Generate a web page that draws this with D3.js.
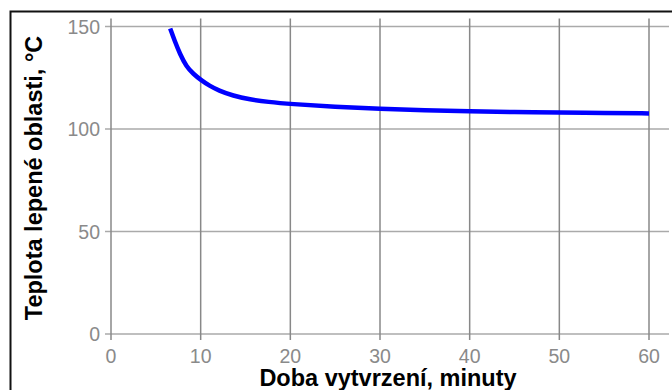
<!DOCTYPE html>
<html>
<head>
<meta charset="utf-8">
<script src="https://cdn.jsdelivr.net/npm/d3@7"></script>
<style>
  body { margin: 0; background: #fff; }
  svg { display: block; font-family: "Liberation Sans", Arial, sans-serif; }
</style>
</head>
<body>
<div id="chart"></div>
<script>
// curve
var minutes = [6.6, 7.1, 7.7, 8.4, 9.2, 10, 11, 12, 13.6, 15.5, 17.5, 20, 25, 30, 35, 40, 45, 50, 55, 60];
var temps   = [149, 143, 136.5, 130.5, 126.8, 124, 121, 118.8, 116.2, 114.4, 113.2, 112.2, 110.8, 109.8, 109.1, 108.6, 108.3, 108, 107.8, 107.6];
var xTicks = [0, 10, 20, 30, 40, 50, 60];
var yTicks = [0, 50, 100, 150];
var xTitle = "Doba vytvrzení, minuty";
var yTitle = "Teplota lepené oblasti, °C";

var W = 672, H = 390;
var mLeft = 111, mRight = 649, mTop = 26.5, mBottom = 334;

var svg = d3.select("#chart").append("svg")
  .attr("width", W)
  .attr("height", H);

// frame
svg.append("rect")
  .attr("x", 10.5).attr("y", 11.5)
  .attr("width", 700).attr("height", 400)
  .attr("fill", "none")
  .attr("stroke", "#111")
  .attr("stroke-width", 2);

var x = d3.scaleLinear().domain([0, 60]).range([mLeft, mRight]);
var y = d3.scaleLinear().domain([0, 150]).range([mBottom, mTop]);

// horizontal grid
svg.append("g").selectAll("line")
  .data(yTicks).enter().append("line")
  .attr("x1", mLeft - 6).attr("x2", mRight + 20)
  .attr("y1", function (d) { return y(d); })
  .attr("y2", function (d) { return y(d); })
  .attr("stroke", "#aaa")
  .attr("stroke-width", 1.5);

// vertical grid
svg.append("g").selectAll("line")
  .data(xTicks).enter().append("line")
  .attr("x1", function (d) { return x(d); })
  .attr("x2", function (d) { return x(d); })
  .attr("y1", mTop - 8).attr("y2", mBottom + 6)
  .attr("stroke", "#888")
  .attr("stroke-width", 1.5);

// tick labels
svg.append("g").selectAll("text")
  .data(yTicks).enter().append("text")
  .attr("x", mLeft - 11)
  .attr("y", function (d) { return y(d); })
  .attr("dy", "0.36em")
  .attr("text-anchor", "end")
  .attr("fill", "#8a8a8a")
  .style("font-size", "19.5px")
  .text(function (d) { return d; });

svg.append("g").selectAll("text")
  .data(xTicks).enter().append("text")
  .attr("x", function (d) { return x(d); })
  .attr("y", 363)
  .attr("text-anchor", "middle")
  .attr("fill", "#8a8a8a")
  .style("font-size", "19.5px")
  .text(function (d) { return d; });

// curve
var line = d3.line()
  .x(function (d, i) { return x(minutes[i]); })
  .y(function (d) { return y(d); })
  .curve(d3.curveBasis);

svg.append("path")
  .datum(temps)
  .attr("d", line)
  .attr("fill", "none")
  .attr("stroke", "#0000ff")
  .attr("stroke-width", 4.5);

// axis titles
svg.append("text")
  .attr("x", 388).attr("y", 386)
  .attr("text-anchor", "middle")
  .style("font-size", "23.5px")
  .style("font-weight", "bold")
  .text(xTitle);

svg.append("text")
  .attr("transform", "translate(42,178) rotate(-90)")
  .attr("text-anchor", "middle")
  .style("font-size", "23.5px")
  .style("font-weight", "bold")
  .text(yTitle);
</script>
</body>
</html>
